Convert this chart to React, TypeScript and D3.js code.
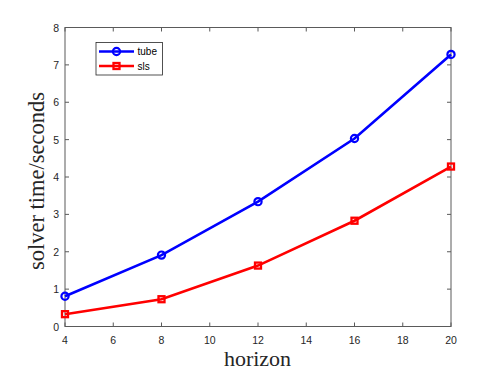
import React from "react";
import * as d3 from "d3";

const horizons = [4, 8, 12, 16, 20];
const tubeTimes = [0.81, 1.91, 3.34, 5.03, 7.28];
const slsTimes = [0.33, 0.73, 1.63, 2.83, 4.28];
const xTicks = [4, 6, 8, 10, 12, 14, 16, 18, 20];
const yTicks = [0, 1, 2, 3, 4, 5, 6, 7, 8];
const seriesNames = ["tube", "sls"];
const seriesColors = ["#0000ff", "#ff0000"];

const W = 498;
const H = 374;
const L = 65, R = 451, T = 27.5, B = 326.5;

export default function App() {
  const x = d3.scaleLinear().domain([4, 20]).range([L, R]);
  const y = d3.scaleLinear().domain([0, 8]).range([B, T]);
  const line = d3.line<number>().x((_, i) => x(horizons[i])).y((d) => y(d));
  const series = [tubeTimes, slsTimes];
  const axisColor = "#5a5a5a";
  const tickFont = "'Liberation Sans', Arial, sans-serif";
  const serif = "'Liberation Serif', 'DejaVu Serif', serif";
  const marker = (si: number, cx: number, cy: number, key: any) =>
    si === 0 ? (
      <circle key={key} cx={cx} cy={cy} r={3.6} fill="none" stroke={seriesColors[si]} strokeWidth={2.2} />
    ) : (
      <rect key={key} x={cx - 3} y={cy - 3} width={6} height={6} fill="none" stroke={seriesColors[si]} strokeWidth={2.3} />
    );
  return (
    <svg width={W} height={H} style={{ position: "absolute", left: 0, top: 0, background: "#fff" }}>
      <rect x={0} y={0} width={W} height={H} fill="#fff" />
      <rect x={L} y={T} width={R - L} height={B - T} fill="none" stroke={axisColor} strokeWidth={1} />
      {xTicks.map((t) => (
        <g key={"x" + t}>
          <line x1={x(t)} x2={x(t)} y1={B} y2={B - 4} stroke={axisColor} />
          <line x1={x(t)} x2={x(t)} y1={T} y2={T + 4} stroke={axisColor} />
          <text x={x(t)} y={B + 17} textAnchor="middle" fontSize={10.5} fontFamily={tickFont} fill="#262626">
            {t}
          </text>
        </g>
      ))}
      {yTicks.map((t) => (
        <g key={"y" + t}>
          <line x1={L} x2={L + 4} y1={y(t)} y2={y(t)} stroke={axisColor} />
          <line x1={R} x2={R - 4} y1={y(t)} y2={y(t)} stroke={axisColor} />
          <text x={L - 6} y={y(t) + 4} textAnchor="end" fontSize={10.5} fontFamily={tickFont} fill="#262626">
            {t}
          </text>
        </g>
      ))}
      {series.map((s, si) => (
        <g key={"s" + si}>
          <path d={line(s) || ""} fill="none" stroke={seriesColors[si]} strokeWidth={2.6} />
          {s.map((v, i) => marker(si, x(horizons[i]), y(v), i))}
        </g>
      ))}
      <rect x={96} y={42.5} width={66.5} height={32.5} fill="#fff" stroke="#262626" strokeWidth={0.8} />
      {seriesNames.map((n, i) => {
        const ly = 51.5 + i * 14.5;
        return (
          <g key={n}>
            <line x1={99} x2={134} y1={ly} y2={ly} stroke={seriesColors[i]} strokeWidth={2.6} />
            {marker(i, 116.5, ly, "m")}
            <text x={137.5} y={ly + 3.5} fontSize={10} fontFamily={tickFont} fill="#000">
              {n}
            </text>
          </g>
        );
      })}
      <text x={257.5} y={366} textAnchor="middle" fontSize={22} fontFamily={serif} fill="#262626">
        horizon
      </text>
      <text
        transform={`translate(44, 181) rotate(-90)`}
        textAnchor="middle"
        fontSize={22.5}
        fontFamily={serif}
        fill="#262626"
      >
        solver time/seconds
      </text>
    </svg>
  );
}
